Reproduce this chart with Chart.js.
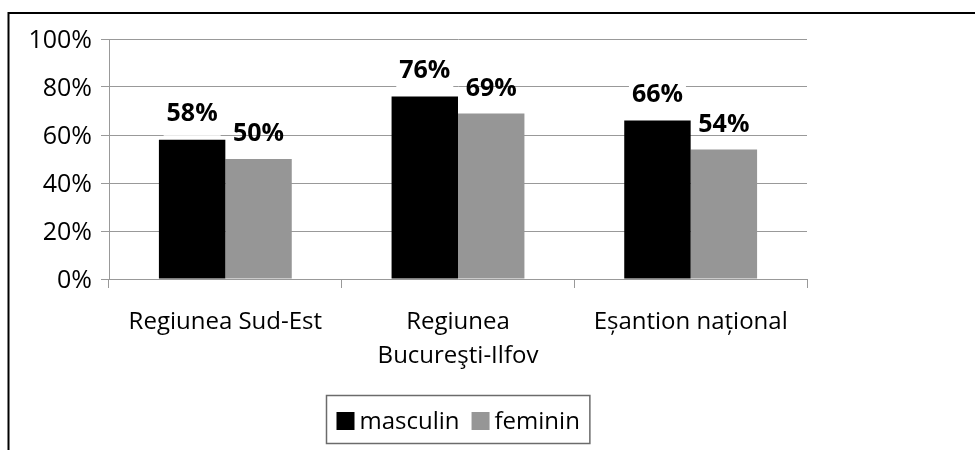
<!DOCTYPE html>
<html><head><meta charset="utf-8">
<script src="https://cdn.jsdelivr.net/npm/chart.js@4.4.0/dist/chart.umd.min.js"></script>
<style>html,body{margin:0;padding:0;background:#fff}canvas{display:block}</style>
</head><body>
<canvas id="c" width="975" height="450"></canvas>
<script>
const categories = ["Regiunea Sud-Est", ["Regiunea", "Bucureşti-Ilfov"], "Eșantion național"];
const seriesNames = ["masculin", "feminin"];
const masculin = [58, 76, 66];
const feminin = [50, 69, 54];
const yTicks = [0, 20, 40, 60, 80, 100];
const seriesColors = ["#000000", "#969696"];

const FONT = "'Open Sans', sans-serif";
const GRID = "#999999";

const framePlugin = {
  id: 'frame',
  afterDraw(chart) {
    const ctx = chart.ctx;
    ctx.save();
    ctx.strokeStyle = '#000';
    ctx.lineWidth = 2;
    ctx.beginPath();
    ctx.moveTo(8.5, 450);
    ctx.lineTo(8.5, 13);
    ctx.lineTo(975, 13);
    ctx.stroke();
    ctx.restore();
  }
};

const valuePlugin = {
  id: 'vals',
  afterDatasetsDraw(chart) {
    const ctx = chart.ctx;
    ctx.save();
    ctx.font = "bold 25px " + FONT;
    ctx.textAlign = 'center';
    ctx.textBaseline = 'middle';
    chart.data.datasets.forEach((ds, i) => {
      const meta = chart.getDatasetMeta(i);
      meta.data.forEach((bar, j) => {
        const txt = ds.data[j] + '%';
        if (i === 0) {
          ctx.fillStyle = '#fff';
          ctx.fillRect(bar.x - 28.5, bar.y - 37, 57, 33);
        }
        ctx.fillStyle = '#000';
        ctx.fillText(txt, bar.x, bar.y - (i === 0 ? 26 : 25));
      });
    });
    ctx.restore();
  }
};

const legendPlugin = {
  id: 'boxLegend',
  afterDraw(chart) {
    const ctx = chart.ctx;
    const ca = chart.chartArea;
    ctx.save();
    ctx.font = "24px " + FONT;
    const sq = 18, gap = 5, itemGap = 12, padX = 10;
    const ds = chart.data.datasets;
    const widths = ds.map(d => ctx.measureText(d.label).width);
    let total = 0;
    widths.forEach((w, i) => { total += sq + gap + w + (i < widths.length - 1 ? itemGap : 0); });
    const boxW = total + 2 * padX;
    const cx = (ca.left + ca.right) / 2;
    const left = Math.round(cx - boxW / 2) + 0.5;
    const top = 395.5, h = 48;
    ctx.strokeStyle = '#6b6b6b';
    ctx.lineWidth = 1.5;
    ctx.strokeRect(left, top, boxW, h);
    let x = left + padX;
    ctx.textBaseline = 'alphabetic';
    ctx.textAlign = 'left';
    ds.forEach((d, i) => {
      ctx.fillStyle = d.backgroundColor;
      ctx.fillRect(x, 412, sq, sq);
      x += sq + gap;
      ctx.fillStyle = '#000';
      ctx.fillText(d.label, x, 429);
      x += widths[i] + itemGap;
    });
    ctx.restore();
  }
};

new Chart(document.getElementById('c'), {
  type: 'bar',
  data: {
    labels: categories,
    datasets: [
      { label: seriesNames[0], data: masculin, backgroundColor: seriesColors[0] },
      { label: seriesNames[1], data: feminin, backgroundColor: seriesColors[1] }
    ]
  },
  options: {
    responsive: false,
    animation: false,
    events: [],
    categoryPercentage: 0.571,
    barPercentage: 1.0,
    layout: { padding: { left: 0, top: 39, right: 168, bottom: 0 } },
    plugins: { legend: { display: false }, tooltip: { enabled: false } },
    scales: {
      x: {
        grid: { display: true, drawOnChartArea: false, drawTicks: true, tickLength: 9, color: GRID, offset: true },
        border: { display: true, color: GRID, width: 1 },
        ticks: { font: { family: FONT, size: 24, lineHeight: 1.42 }, color: '#000', padding: 17, maxRotation: 0, autoSkip: false },
        afterFit(s) { s.height = 171; }
      },
      y: {
        min: 0, max: 100,
        afterBuildTicks(s) { s.ticks = yTicks.map(v => ({ value: v })); },
        ticks: { callback: v => v + '%', font: { family: FONT, size: 25 }, color: '#000', padding: 9, labelOffset: 2 },
        grid: { color: GRID, tickLength: 8 },
        border: { display: true, color: GRID, width: 1 },
        afterFit(s) { s.width = 109; }
      }
    }
  },
  plugins: [framePlugin, valuePlugin, legendPlugin]
});
</script>
</body></html>
